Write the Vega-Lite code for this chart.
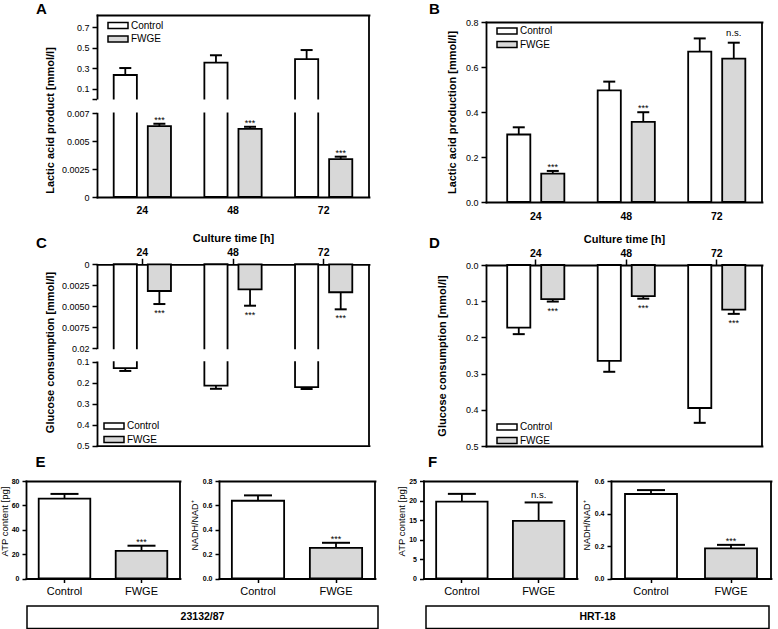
{
"$schema":"https://vega.github.io/schema/vega-lite/v6.json",
"width":778,"height":629,"autosize":"none","padding":0,"background":"white",
"config":{
 "view":{"stroke":null},
 "font":"Liberation Sans",
 "axis":{"domainColor":"black","domainWidth":1.8,"domainCap":"square","tickColor":"black","tickWidth":1.5,"tickSize":5,"labelColor":"black","titleColor":"black","labelFont":"Liberation Sans","titleFont":"Liberation Sans","labelFontSize":9,"labelPadding":3,"titleFontSize":11,"titleFontWeight":"bold","grid":false,"labelOverlap":false,"labelFlush":false},
 "legend":{"title":null,"symbolType":"M-2,-0.6H2V0.6H-2Z","symbolSize":100,"symbolStrokeColor":"black","symbolStrokeWidth":1.5,"symbolOpacity":1,"labelFont":"Liberation Sans","labelFontSize":10,"labelColor":"black","labelOffset":7,"rowPadding":1.5,"padding":0}
},
"datasets":{
 "A":[
  {"time":"24","cond":"Control","mean":0.235,"hi":0.303,"sig":""},
  {"time":"24","cond":"FWGE","mean":0.00633,"hi":0.00654,"sig":"***"},
  {"time":"48","cond":"Control","mean":0.355,"hi":0.428,"sig":""},
  {"time":"48","cond":"FWGE","mean":0.00609,"hi":0.00627,"sig":"***"},
  {"time":"72","cond":"Control","mean":0.391,"hi":0.479,"sig":""},
  {"time":"72","cond":"FWGE","mean":0.00339,"hi":0.0036,"sig":"***"}
 ],
 "B":[
  {"time":"24","cond":"Control","mean":0.30,"hi":0.332,"sig":""},
  {"time":"24","cond":"FWGE","mean":0.126,"hi":0.138,"sig":"***"},
  {"time":"48","cond":"Control","mean":0.496,"hi":0.535,"sig":""},
  {"time":"48","cond":"FWGE","mean":0.356,"hi":0.399,"sig":"***"},
  {"time":"72","cond":"Control","mean":0.668,"hi":0.727,"sig":""},
  {"time":"72","cond":"FWGE","mean":0.637,"hi":0.708,"sig":"n.s."}
 ],
 "C":[
  {"time":"24","cond":"Control","mean":0.131,"hi":0.144,"sig":""},
  {"time":"24","cond":"FWGE","mean":0.00318,"hi":0.00473,"sig":"***"},
  {"time":"48","cond":"Control","mean":0.214,"hi":0.229,"sig":""},
  {"time":"48","cond":"FWGE","mean":0.00298,"hi":0.00493,"sig":"***"},
  {"time":"72","cond":"Control","mean":0.221,"hi":0.230,"sig":""},
  {"time":"72","cond":"FWGE","mean":0.00333,"hi":0.00536,"sig":"***"}
 ],
 "D":[
  {"time":"24","cond":"Control","mean":0.173,"hi":0.191,"sig":""},
  {"time":"24","cond":"FWGE","mean":0.094,"hi":0.101,"sig":"***"},
  {"time":"48","cond":"Control","mean":0.265,"hi":0.295,"sig":""},
  {"time":"48","cond":"FWGE","mean":0.086,"hi":0.093,"sig":"***"},
  {"time":"72","cond":"Control","mean":0.395,"hi":0.436,"sig":""},
  {"time":"72","cond":"FWGE","mean":0.123,"hi":0.135,"sig":"***"}
 ],
 "E1":[{"cond":"Control","mean":65.5,"hi":69.4,"sig":""},{"cond":"FWGE","mean":22.6,"hi":26.9,"sig":"***"}],
 "E2":[{"cond":"Control","mean":0.638,"hi":0.682,"sig":""},{"cond":"FWGE","mean":0.252,"hi":0.293,"sig":"***"}],
 "F1":[{"cond":"Control","mean":19.7,"hi":21.7,"sig":""},{"cond":"FWGE","mean":14.8,"hi":19.5,"sig":"n.s."}],
 "F2":[{"cond":"Control","mean":0.52,"hi":0.544,"sig":""},{"cond":"FWGE","mean":0.185,"hi":0.207,"sig":"***"}]
},
"layer":[
 {
  "data":{"name":"A"},
  "transform":[{"filter":"datum.cond == 'Control'"}],
  "layer":[
   {
    "encoding":{
     "x":{"field":"time","type":"nominal","scale":{"domain":["24","48","72"],"range":[97,369],"paddingInner":0,"paddingOuter":0},"axis":{"orient":"top","offset":-15,"labels":false,"ticks":false,"title":"A","titleX":41,"titleY":-7,"titleAngle":0,"titleAlign":"center","titleBaseline":"middle","titleFontSize":15}},
     "xOffset":{"field":"cond","type":"nominal","scale":{"domain":["Control","FWGE"],"paddingInner":0.32,"paddingOuter":0.49}}
    },
    "layer":[
     {"mark":{"type":"bar","stroke":"black","strokeWidth":1.8,"strokeJoin":"miter"},
      "encoding":{
       "y":{"field":"mean","type":"quantitative","scale":{"domain":[0,0.822],"range":[99,15],"nice":false},"axis":{"orient":"left","offset":-97,"values":[0,0.1,0.3,0.5,0.7],"labelExpr":"datum.value == 0 ? '' : format(datum.value, '.1f')","title":null}},
       "y2":{"datum":-0.959},
       "fill":{"field":"cond","type":"nominal","scale":{"domain":["Control","FWGE"],"range":["white","#d8d8d8"]},"legend":{"orient":"none","legendX":112,"legendY":19.5}}
      }},
     {"mark":{"type":"rule","color":"black","strokeWidth":1.8},
      "encoding":{"y":{"field":"mean","type":"quantitative"},"y2":{"field":"hi"}}},
     {"mark":{"type":"tick","color":"black","thickness":2,"size":12,"opacity":1},
      "encoding":{"y":{"field":"hi","type":"quantitative"}}}
    ]
   },
   {"mark":{"type":"rect","fill":"white"},
    "encoding":{"x":{"field":"time","type":"nominal"},"y":{"datum":-0.006,"type":"quantitative"},"y2":{"datum":-0.133}}},
   {"transform":[{"filter":"datum.time == '72'"}],
    "mark":{"type":"rule","color":"black","strokeWidth":1.8},
    "encoding":{"x":{"field":"time","type":"nominal","bandPosition":1},"y":{"datum":0.822,"type":"quantitative"},"y2":{"datum":-0.959}}}
  ]
 },
 {
  "data":{"name":"A"},
  "transform":[{"filter":"datum.cond == 'FWGE'"}],
  "encoding":{
   "x":{"field":"time","type":"nominal","scale":{"domain":["24","48","72"],"range":[97,369],"paddingInner":0,"paddingOuter":0},"axis":{"orient":"bottom","offset":-432,"ticks":false,"labelPadding":8,"labelFontSize":10.5,"labelFontWeight":"bold","labelAngle":0,"title":null}},
   "xOffset":{"field":"cond","type":"nominal","scale":{"domain":["Control","FWGE"],"paddingInner":0.32,"paddingOuter":0.49}}
  },
  "layer":[
   {"mark":{"type":"bar","stroke":"black","strokeWidth":1.8,"strokeJoin":"miter"},
    "encoding":{
     "y":{"field":"mean","type":"quantitative","scale":{"domain":[0,0.0075],"range":[197,113],"nice":false},"axis":{"orient":"left","offset":-97,"values":[0,0.0025,0.005,0.0075],"labelExpr":"datum.value == 0 ? '0' : datum.value == 0.0025 ? '0.0025' : datum.value == 0.005 ? '0.005' : '0.007'","title":"Lactic acid product [mmol/l]","titleY":120,"titlePadding":5.5}},
     "y2":{"datum":0},
     "fill":{"field":"cond","type":"nominal","scale":{"domain":["Control","FWGE"],"range":["white","#d8d8d8"]},"legend":null}
    }},
   {"mark":{"type":"rule","color":"black","strokeWidth":1.8},
    "encoding":{"y":{"field":"mean","type":"quantitative"},"y2":{"field":"hi"}}},
   {"mark":{"type":"tick","color":"black","thickness":2,"size":12,"opacity":1},
    "encoding":{"y":{"field":"hi","type":"quantitative"}}},
   {"mark":{"type":"text","fontSize":9,"baseline":"alphabetic","dy":-1,"color":"black"},
    "encoding":{"y":{"field":"hi","type":"quantitative"},"text":{"field":"sig"}}}
  ]
 },
 {
  "data":{"name":"B"},
  "layer":[
   {
    "encoding":{
     "x":{"field":"time","type":"nominal","scale":{"domain":["24","48","72"],"range":[486,762],"paddingInner":0,"paddingOuter":0.025,"align":1},"axis":{"orient":"bottom","offset":-427,"ticks":false,"labelPadding":9.5,"labelFontSize":10.5,"labelFontWeight":"bold","labelAngle":0,"title":null}},
     "xOffset":{"field":"cond","type":"nominal","scale":{"domain":["Control","FWGE"],"paddingInner":0.32,"paddingOuter":0.49}}
    },
    "layer":[
     {"mark":{"type":"bar","stroke":"black","strokeWidth":1.8,"strokeJoin":"miter"},
      "encoding":{
       "y":{"field":"mean","type":"quantitative","scale":{"domain":[0,0.8],"range":[202,22],"nice":false},"axis":{"orient":"left","offset":-486,"values":[0,0.2,0.4,0.6,0.8],"format":".1f","title":"Lactic acid production [mmol/l]","titlePadding":7.5}},
       "y2":{"datum":0},
       "fill":{"field":"cond","type":"nominal","scale":{"domain":["Control","FWGE"],"range":["white","#d8d8d8"]},"legend":{"orient":"none","legendX":501,"legendY":25}}
      }},
     {"mark":{"type":"rule","color":"black","strokeWidth":1.8},
      "encoding":{"y":{"field":"mean","type":"quantitative"},"y2":{"field":"hi"}}},
     {"mark":{"type":"tick","color":"black","thickness":2,"size":12,"opacity":1},
      "encoding":{"y":{"field":"hi","type":"quantitative"}}},
     {"transform":[{"filter":"datum.sig == '***'"}],
      "mark":{"type":"text","fontSize":9,"baseline":"alphabetic","dy":-1,"color":"black"},
      "encoding":{"y":{"field":"hi","type":"quantitative"},"text":{"field":"sig"}}},
     {"transform":[{"filter":"datum.sig == 'n.s.'"}],
      "mark":{"type":"text","fontSize":9.5,"baseline":"alphabetic","dy":-6.5,"color":"black"},
      "encoding":{"y":{"field":"hi","type":"quantitative"},"text":{"field":"sig"}}}
    ]
   },
   {"transform":[{"filter":"datum.time == '72' && datum.cond == 'FWGE'"}],
    "mark":{"type":"rule","color":"black","strokeWidth":1.8},
    "encoding":{"x":{"field":"time","type":"nominal","bandPosition":1,"axis":{"orient":"top","offset":-22,"labels":false,"ticks":false,"title":"B","titleX":434,"titleY":-14,"titleAngle":0,"titleAlign":"center","titleBaseline":"middle","titleFontSize":15}},"y":{"datum":0,"type":"quantitative"},"y2":{"datum":0.8}}}
  ],
  "resolve":{"axis":{"x":"independent"}}
 },
 {
  "data":{"name":"C"},
  "transform":[{"filter":"datum.cond == 'FWGE'"}],
  "encoding":{
   "x":{"field":"time","type":"nominal","scale":{"domain":["24","48","72"],"range":[97,369],"paddingInner":0,"paddingOuter":0},"axis":{"orient":"top","offset":-264.3,"tickSize":6,"labelPadding":1,"labelFontSize":10.5,"labelFontWeight":"bold","labelAngle":0,"title":"Culture time [h]","titlePadding":4}},
   "xOffset":{"field":"cond","type":"nominal","scale":{"domain":["Control","FWGE"],"paddingInner":0.32,"paddingOuter":0.49}}
  },
  "layer":[
   {"mark":{"type":"bar","stroke":"black","strokeWidth":1.8,"strokeJoin":"miter"},
    "encoding":{
     "y":{"field":"mean","type":"quantitative","scale":{"domain":[0,0.01],"range":[264.3,348.3],"nice":false},"axis":{"orient":"left","offset":-97,"values":[0,0.0025,0.005,0.0075,0.01],"labelExpr":"datum.value == 0 ? '0' : datum.value == 0.01 ? '0.02' : format(datum.value, '.4f')","title":"Glucose consumption [mmol/l]","titleY":352,"titlePadding":5.5}},
     "y2":{"datum":0},
     "fill":{"field":"cond","type":"nominal","scale":{"domain":["Control","FWGE"],"range":["white","#d8d8d8"]},"legend":null}
    }},
   {"mark":{"type":"rule","color":"black","strokeWidth":1.8},
    "encoding":{"y":{"field":"mean","type":"quantitative"},"y2":{"field":"hi"}}},
   {"mark":{"type":"tick","color":"black","thickness":2,"size":12,"opacity":1},
    "encoding":{"y":{"field":"hi","type":"quantitative"}}},
   {"mark":{"type":"text","fontSize":9,"baseline":"alphabetic","dy":12,"color":"black"},
    "encoding":{"y":{"field":"hi","type":"quantitative"},"text":{"field":"sig"}}}
  ]
 },
 {
  "data":{"name":"C"},
  "transform":[{"filter":"datum.cond == 'Control'"}],
  "layer":[
   {
    "encoding":{
     "x":{"field":"time","type":"nominal","scale":{"domain":["24","48","72"],"range":[97,369],"paddingInner":0,"paddingOuter":0},"axis":{"orient":"bottom","offset":-183.3,"labels":false,"ticks":false,"title":null}},
     "xOffset":{"field":"cond","type":"nominal","scale":{"domain":["Control","FWGE"],"paddingInner":0.32,"paddingOuter":0.49}}
    },
    "layer":[
     {"mark":{"type":"bar","stroke":"black","strokeWidth":1.8,"strokeJoin":"miter"},
      "encoding":{
       "y":{"field":"mean","type":"quantitative","scale":{"domain":[0.1,0.5],"range":[361.7,445.7],"zero":false,"nice":false},"axis":{"orient":"left","offset":-97,"values":[0.1,0.2,0.3,0.4,0.5],"format":".1f","title":"C","titleAngle":0,"titleX":-56,"titleY":242,"titleAlign":"center","titleBaseline":"middle","titleFontSize":15}},
       "y2":{"datum":-0.364},
       "fill":{"field":"cond","type":"nominal","scale":{"domain":["Control","FWGE"],"range":["white","#d8d8d8"]},"legend":{"orient":"none","legendX":108,"legendY":420}}
      }},
     {"mark":{"type":"rule","color":"black","strokeWidth":1.8},
      "encoding":{"y":{"field":"mean","type":"quantitative"},"y2":{"field":"hi"}}},
     {"mark":{"type":"tick","color":"black","thickness":2,"size":12,"opacity":1},
      "encoding":{"y":{"field":"hi","type":"quantitative"}}}
    ]
   },
   {"mark":{"type":"rect","fill":"white"},
    "encoding":{"x":{"field":"time","type":"nominal"},"y":{"datum":0.0405,"type":"quantitative"},"y2":{"datum":0.0976}}},
   {"transform":[{"filter":"datum.time == '72'"}],
    "mark":{"type":"rule","color":"black","strokeWidth":1.8},
    "encoding":{"x":{"field":"time","type":"nominal","bandPosition":1},"y":{"datum":-0.364,"type":"quantitative"},"y2":{"datum":0.5}}}
  ]
 },
 {
  "data":{"name":"D"},
  "layer":[
   {
    "encoding":{
     "x":{"field":"time","type":"nominal","scale":{"domain":["24","48","72"],"range":[486,762],"paddingInner":0,"paddingOuter":0.025,"align":1},"axis":{"orient":"top","offset":-265,"tickSize":6,"labelPadding":1,"labelFontSize":10.5,"labelFontWeight":"bold","labelAngle":0,"title":"Culture time [h]","titlePadding":4}},
     "xOffset":{"field":"cond","type":"nominal","scale":{"domain":["Control","FWGE"],"paddingInner":0.32,"paddingOuter":0.49}}
    },
    "layer":[
     {"mark":{"type":"bar","stroke":"black","strokeWidth":1.8,"strokeJoin":"miter"},
      "encoding":{
       "y":{"field":"mean","type":"quantitative","scale":{"domain":[0,0.5],"range":[265,446],"nice":false},"axis":{"orient":"left","offset":-486,"values":[0,0.1,0.2,0.3,0.4,0.5],"format":".1f","title":"Glucose consumption [mmol/l]","titlePadding":18}},
       "y2":{"datum":0},
       "fill":{"field":"cond","type":"nominal","scale":{"domain":["Control","FWGE"],"range":["white","#d8d8d8"]},"legend":{"orient":"none","legendX":501,"legendY":421}}
      }},
     {"mark":{"type":"rule","color":"black","strokeWidth":1.8},
      "encoding":{"y":{"field":"mean","type":"quantitative"},"y2":{"field":"hi"}}},
     {"mark":{"type":"tick","color":"black","thickness":2,"size":12,"opacity":1},
      "encoding":{"y":{"field":"hi","type":"quantitative"}}},
     {"mark":{"type":"text","fontSize":9,"baseline":"alphabetic","dy":12,"color":"black"},
      "encoding":{"y":{"field":"hi","type":"quantitative"},"text":{"field":"sig"}}}
    ]
   },
   {"transform":[{"filter":"datum.time == '72' && datum.cond == 'FWGE'"}],
    "mark":{"type":"rule","color":"black","strokeWidth":1.8},
    "encoding":{"x":{"field":"time","type":"nominal","bandPosition":1,"axis":{"orient":"bottom","offset":-183,"labels":false,"ticks":false,"title":"D","titleX":434,"titleY":-204,"titleAngle":0,"titleAlign":"center","titleBaseline":"middle","titleFontSize":15}},"y":{"datum":0,"type":"quantitative"},"y2":{"datum":0.5}}}
  ],
  "resolve":{"axis":{"x":"independent"}}
 },
 {
  "data":{"name":"E1"},
  "layer":[
   {
    "encoding":{
     "x":{"field":"cond","type":"nominal","scale":{"domain":["Control","FWGE"],"range":[26,180],"paddingInner":0,"paddingOuter":0},"axis":{"orient":"bottom","offset":-50.5,"tickSize":4,"labelPadding":3,"labelFontSize":11,"labelAngle":0,"title":null}}
    },
    "layer":[
     {"mark":{"type":"bar","stroke":"black","strokeWidth":1.8,"strokeJoin":"miter","width":{"band":0.67}},
      "encoding":{
       "y":{"field":"mean","type":"quantitative","scale":{"domain":[0,80],"range":[578.5,481],"nice":false},"axis":{"orient":"left","offset":-26,"values":[0,20,40,60,80],"labelFontSize":7,"labelFontWeight":"bold","tickSize":4,"labelPadding":3,"title":"ATP content [pg]","titleFontSize":9.5,"titleFontWeight":"normal","titlePadding":2,"titleY":521}},
       "y2":{"datum":0},
       "fill":{"field":"cond","type":"nominal","scale":{"domain":["Control","FWGE"],"range":["white","#d8d8d8"]},"legend":null}
      }},
     {"mark":{"type":"rule","color":"black","strokeWidth":1.8},
      "encoding":{"y":{"field":"mean","type":"quantitative"},"y2":{"field":"hi"}}},
     {"mark":{"type":"tick","color":"black","thickness":2,"size":28,"opacity":1},
      "encoding":{"y":{"field":"hi","type":"quantitative"}}},
     {"mark":{"type":"text","fontSize":9,"baseline":"alphabetic","dy":-1,"color":"black"},
      "encoding":{"y":{"field":"hi","type":"quantitative"},"text":{"field":"sig"}}}
    ]
   },
   {"transform":[{"filter":"datum.cond == 'FWGE'"}],
    "mark":{"type":"rule","color":"black","strokeWidth":1.8},
    "encoding":{"x":{"field":"cond","type":"nominal","bandPosition":1,"axis":{"orient":"top","offset":-481,"labels":false,"ticks":false,"title":"E","titleX":40,"titleY":-20,"titleAngle":0,"titleAlign":"center","titleBaseline":"middle","titleFontSize":15}},"y":{"datum":0,"type":"quantitative"},"y2":{"datum":80}}}
  ],
  "resolve":{"axis":{"x":"independent"}}
 },
 {
  "data":{"name":"E2"},
  "layer":[
   {
    "encoding":{
     "x":{"field":"cond","type":"nominal","scale":{"domain":["Control","FWGE"],"range":[219,375],"paddingInner":0,"paddingOuter":0},"axis":{"orient":"bottom","offset":-50.5,"tickSize":4,"labelPadding":3,"labelFontSize":11,"labelAngle":0,"title":null}}
    },
    "layer":[
     {"mark":{"type":"bar","stroke":"black","strokeWidth":1.8,"strokeJoin":"miter","width":{"band":0.67}},
      "encoding":{
       "y":{"field":"mean","type":"quantitative","scale":{"domain":[0,0.8],"range":[578.5,481],"nice":false},"axis":{"orient":"left","offset":-219,"values":[0,0.2,0.4,0.6,0.8],"format":".1f","labelFontSize":7,"labelFontWeight":"bold","tickSize":4,"labelPadding":3,"title":"NADH/NAD⁺","titleFontSize":9,"titleFontWeight":"normal","titlePadding":3,"titleY":525}},
       "y2":{"datum":0},
       "fill":{"field":"cond","type":"nominal","scale":{"domain":["Control","FWGE"],"range":["white","#d8d8d8"]},"legend":null}
      }},
     {"mark":{"type":"rule","color":"black","strokeWidth":1.8},
      "encoding":{"y":{"field":"mean","type":"quantitative"},"y2":{"field":"hi"}}},
     {"mark":{"type":"tick","color":"black","thickness":2,"size":28,"opacity":1},
      "encoding":{"y":{"field":"hi","type":"quantitative"}}},
     {"mark":{"type":"text","fontSize":9,"baseline":"alphabetic","dy":-1,"color":"black"},
      "encoding":{"y":{"field":"hi","type":"quantitative"},"text":{"field":"sig"}}}
    ]
   },
   {"transform":[{"filter":"datum.cond == 'FWGE'"}],
    "mark":{"type":"rule","color":"black","strokeWidth":1.8},
    "encoding":{"x":{"field":"cond","type":"nominal","bandPosition":1,"axis":{"orient":"top","offset":-481,"labels":false,"ticks":false,"title":null}},"y":{"datum":0,"type":"quantitative"},"y2":{"datum":0.8}}}
  ],
  "resolve":{"axis":{"x":"independent"}}
 },
 {
  "data":{"name":"F1"},
  "layer":[
   {
    "encoding":{
     "x":{"field":"cond","type":"nominal","scale":{"domain":["Control","FWGE"],"range":[423.5,577],"paddingInner":0,"paddingOuter":0},"axis":{"orient":"bottom","offset":-50.5,"tickSize":4,"labelPadding":3,"labelFontSize":11,"labelAngle":0,"title":null}}
    },
    "layer":[
     {"mark":{"type":"bar","stroke":"black","strokeWidth":1.8,"strokeJoin":"miter","width":{"band":0.67}},
      "encoding":{
       "y":{"field":"mean","type":"quantitative","scale":{"domain":[0,25],"range":[578.5,481],"nice":false},"axis":{"orient":"left","offset":-423.5,"values":[0,5,10,15,20,25],"labelFontSize":7,"labelFontWeight":"bold","tickSize":4,"labelPadding":3,"title":"ATP content [pg]","titleFontSize":9.5,"titleFontWeight":"normal","titlePadding":2,"titleY":521}},
       "y2":{"datum":0},
       "fill":{"field":"cond","type":"nominal","scale":{"domain":["Control","FWGE"],"range":["white","#d8d8d8"]},"legend":null}
      }},
     {"mark":{"type":"rule","color":"black","strokeWidth":1.8},
      "encoding":{"y":{"field":"mean","type":"quantitative"},"y2":{"field":"hi"}}},
     {"mark":{"type":"tick","color":"black","thickness":2,"size":28,"opacity":1},
      "encoding":{"y":{"field":"hi","type":"quantitative"}}},
     {"mark":{"type":"text","fontSize":9.5,"baseline":"alphabetic","dy":-4.5,"color":"black"},
      "encoding":{"y":{"field":"hi","type":"quantitative"},"text":{"field":"sig"}}}
    ]
   },
   {"transform":[{"filter":"datum.cond == 'FWGE'"}],
    "mark":{"type":"rule","color":"black","strokeWidth":1.8},
    "encoding":{"x":{"field":"cond","type":"nominal","bandPosition":1,"axis":{"orient":"top","offset":-481,"labels":false,"ticks":false,"title":"F","titleX":432,"titleY":-20,"titleAngle":0,"titleAlign":"center","titleBaseline":"middle","titleFontSize":15}},"y":{"datum":0,"type":"quantitative"},"y2":{"datum":25}}}
  ],
  "resolve":{"axis":{"x":"independent"}}
 },
 {
  "data":{"name":"F2"},
  "layer":[
   {
    "encoding":{
     "x":{"field":"cond","type":"nominal","scale":{"domain":["Control","FWGE"],"range":[611,771],"paddingInner":0,"paddingOuter":0},"axis":{"orient":"bottom","offset":-50.5,"tickSize":4,"labelPadding":3,"labelFontSize":11,"labelAngle":0,"title":null}}
    },
    "layer":[
     {"mark":{"type":"bar","stroke":"black","strokeWidth":1.8,"strokeJoin":"miter","width":{"band":0.65}},
      "encoding":{
       "y":{"field":"mean","type":"quantitative","scale":{"domain":[0,0.6],"range":[578.5,481],"nice":false},"axis":{"orient":"left","offset":-611,"values":[0,0.2,0.4,0.6],"format":".1f","labelFontSize":7,"labelFontWeight":"bold","tickSize":4,"labelPadding":3,"title":"NADH/NAD⁺","titleFontSize":9,"titleFontWeight":"normal","titlePadding":3,"titleY":525}},
       "y2":{"datum":0},
       "fill":{"field":"cond","type":"nominal","scale":{"domain":["Control","FWGE"],"range":["white","#d8d8d8"]},"legend":null}
      }},
     {"mark":{"type":"rule","color":"black","strokeWidth":1.8},
      "encoding":{"y":{"field":"mean","type":"quantitative"},"y2":{"field":"hi"}}},
     {"mark":{"type":"tick","color":"black","thickness":2,"size":28,"opacity":1},
      "encoding":{"y":{"field":"hi","type":"quantitative"}}},
     {"mark":{"type":"text","fontSize":9,"baseline":"alphabetic","dy":-1,"color":"black"},
      "encoding":{"y":{"field":"hi","type":"quantitative"},"text":{"field":"sig"}}}
    ]
   },
   {"transform":[{"filter":"datum.cond == 'FWGE'"}],
    "mark":{"type":"rule","color":"black","strokeWidth":1.8},
    "encoding":{"x":{"field":"cond","type":"nominal","bandPosition":1,"axis":{"orient":"top","offset":-481,"labels":false,"ticks":false,"title":null}},"y":{"datum":0,"type":"quantitative"},"y2":{"datum":0.6}}}
  ],
  "resolve":{"axis":{"x":"independent"}}
 },
 {
  "data":{"values":[{"line":"23132/87"}]},
  "encoding":{
   "x":{"field":"line","type":"nominal","scale":{"range":[27,378],"paddingInner":0,"paddingOuter":0},"axis":null},
   "y":{"field":"line","type":"nominal","scale":{"range":[606,628.5],"paddingInner":0,"paddingOuter":0},"axis":null}
  },
  "layer":[
   {"mark":{"type":"rect","fill":"white","stroke":"black","strokeWidth":1.5}},
   {"mark":{"type":"text","fontSize":10.5,"fontWeight":"bold","color":"black"},"encoding":{"text":{"field":"line"}}}
  ]
 },
 {
  "data":{"values":[{"line":"HRT-18"}]},
  "encoding":{
   "x":{"field":"line","type":"nominal","scale":{"range":[426,769],"paddingInner":0,"paddingOuter":0},"axis":null},
   "y":{"field":"line","type":"nominal","scale":{"range":[606,628.5],"paddingInner":0,"paddingOuter":0},"axis":null}
  },
  "layer":[
   {"mark":{"type":"rect","fill":"white","stroke":"black","strokeWidth":1.5}},
   {"mark":{"type":"text","fontSize":10.5,"fontWeight":"bold","color":"black"},"encoding":{"text":{"field":"line"}}}
  ]
 }
],
"resolve":{"scale":{"x":"independent","y":"independent","xOffset":"independent","fill":"independent"},"axis":{"x":"independent","y":"independent"},"legend":{"fill":"independent"}}
}
